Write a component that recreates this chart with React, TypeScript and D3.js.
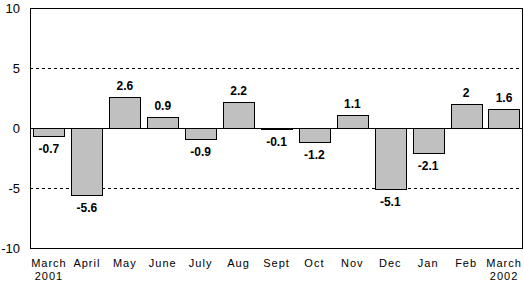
import React from "react";
import * as d3 from "d3";

const categories = ["March\n2001", "April", "May", "June", "July", "Aug", "Sept", "Oct", "Nov", "Dec", "Jan", "Feb", "March\n2002"];
const values = [-0.7, -5.6, 2.6, 0.9, -0.9, 2.2, -0.1, -1.2, 1.1, -5.1, -2.1, 2, 1.6];
const yTicks = [-10, -5, 0, 5, 10];
const gridValues = [-5, 5];

const W = 524, H = 283;
const left = 30, right = 523, top = 8, bottom = 248;

export default function App() {
  const x = d3.scaleBand<number>().domain(d3.range(values.length)).range([left, right]).paddingInner(0.18).paddingOuter(0.09);
  const y = d3.scaleLinear().domain([-10, 10]).range([bottom, top]);
  const font = "Arial, 'Liberation Sans', sans-serif";
  return (
    <svg width={W} height={H} style={{ position: "absolute", left: 0, top: 0 }} fontFamily={font}>
      <rect x={left} y={top} width={right - left} height={bottom - top} fill="white" stroke="none" />
      {gridValues.map((g) => (
        <line key={g} x1={left} x2={right} y1={Math.round(y(g)) + 0.5} y2={Math.round(y(g)) + 0.5} stroke="black" strokeDasharray="3,3" />
      ))}
      {values.map((v, i) => {
        const y0 = y(0), y1 = y(v);
        return (
          <rect key={i} x={Math.round(x(i)!) + 0.5} y={Math.round(Math.min(y0, y1)) + 0.5} width={Math.round(x.bandwidth())} height={Math.max(1, Math.round(Math.abs(y1 - y0)))} fill="#c0c0c0" stroke="black" strokeWidth={1} />
        );
      })}
      <line x1={left} x2={right} y1={Math.round(y(0)) + 0.5} y2={Math.round(y(0)) + 0.5} stroke="black" />
      <rect x={left + 0.5} y={top + 0.5} width={right - left - 1} height={bottom - top} fill="none" stroke="black" />
      {values.map((v, i) => {
        const cx = x(i)! + x.bandwidth() / 2;
        const yy = v >= 0 ? y(v) - 7 : y(v) + 17;
        return (
          <text key={i} x={cx} y={yy} textAnchor="middle" fontSize={12} fontWeight="bold">{String(v)}</text>
        );
      })}
      {yTicks.map((t) => (
        <text key={t} x={20} y={y(t) + 5} textAnchor="end" fontSize={13}>{t}</text>
      ))}
      {categories.map((c, i) => {
        const lines = c.split("\n");
        const cx = x(i)! + x.bandwidth() / 2;
        return (
          <text key={i} x={cx} y={267} textAnchor="middle" fontSize={11} letterSpacing={1}>
            {lines.map((l, k) => (
              <tspan key={k} x={cx} dy={k === 0 ? 0 : 13}>{l}</tspan>
            ))}
          </text>
        );
      })}
    </svg>
  );
}
